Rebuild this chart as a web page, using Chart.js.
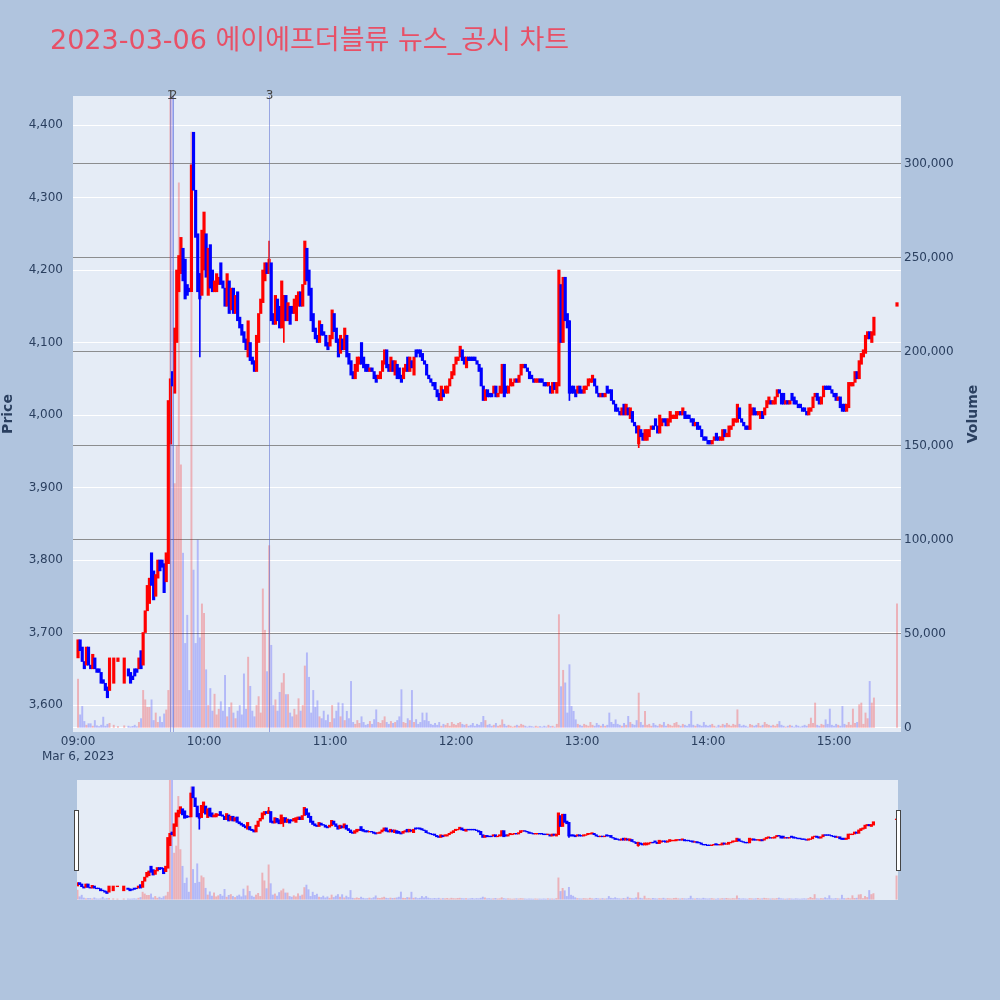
<!DOCTYPE html>
<html>
<head>
<meta charset="utf-8">
<script src="https://cdn.jsdelivr.net/npm/chart.js@4.4.1/dist/chart.umd.min.js"></script>
<style>
  html, body { margin: 0; padding: 0; background: #b0c4de; }
  #wrap { position: relative; width: 1000px; height: 1000px; overflow: hidden; }
  #title { position: absolute; left: 50px; top: 21px; line-height: 38px; white-space: nowrap;
           font-size: 27px; font-family: "DejaVu Sans", "Noto Sans CJK KR", sans-serif; color: rgb(232, 80, 102); }
  #main { position: absolute; left: 0; top: 0; }
  #slider { position: absolute; left: 0; top: 780px; }
</style>
</head>
<body>
<div id="wrap">
  <canvas id="main" width="1000" height="775"></canvas>
  <canvas id="slider" width="1000" height="120"></canvas>
  <div id="title">2023-03-06 에이에프더블류 뉴스_공시 차트</div>
</div>
<script>
// one entry per minute from 09:00 (index 0) to 15:30 (index 390); null = no trade
const opens = [
  3665,3690,3680,3660,3655,3680,3655,3650,3665,3650,
  3650,3645,3635,3630,3625,3620,null,3630,null,3660,
  null,null,3630,null,3650,3645,3640,3650,3650,3650,
  3675,3655,3700,3730,3740,3810,3785,3750,3775,3800,
  3800,3795,3770,3795,3960,4060,4030,4100,4170,4195,
  4230,4215,4180,4175,4170,4390,4310,4250,4195,4165,
  4200,4250,4165,4235,4200,4170,4170,4180,4210,4185,
  4175,4150,4185,4145,4175,4140,4170,4135,4125,4115,
  4105,4080,4100,4080,4075,4060,4100,4140,4155,4185,
  4210,4195,4210,4140,4125,4160,4150,4120,4130,4165,
  4130,4150,4150,4140,4130,4150,4170,4150,4180,4230,
  4200,4175,4140,4120,4110,4100,4125,4115,4110,4100,
  4095,4105,4140,4120,4105,4085,4105,4090,4110,4085,
  4075,4060,4050,4060,4070,4100,4080,4070,4070,4060,
  4065,4060,4055,4050,4050,4060,4070,4090,4070,4060,
  4075,4055,4070,4065,4055,4050,4060,4080,4060,4075,
  4055,4090,4090,4090,4085,4075,4070,4055,4050,4045,
  4045,4035,4030,4020,4035,4030,4030,4040,4050,4055,
  4070,4075,4080,4090,4080,4065,4080,4080,4080,4080,
  4075,4070,4065,4040,4020,4035,4030,4030,4030,4040,
  4025,4030,4030,4070,4040,4030,4040,4040,4045,4050,
  4045,4055,4065,4070,4065,4060,4055,4050,4045,4045,
  4050,4050,4045,4045,4040,4040,4030,4045,4030,4040,
  4180,4100,4190,4140,4130,4040,4040,4035,4030,4040,
  4035,4030,4035,4040,4045,4045,4050,4040,4030,4025,
  4030,4025,4040,4035,4035,4020,4015,4010,4005,4000,
  4015,4000,4010,3995,4005,3990,3985,3960,3980,3975,
  3965,3965,3970,3980,3985,3995,3985,3975,3985,3995,
  3995,3985,3990,3995,3995,3995,4000,4005,4000,4005,
  4000,4000,3995,3995,3985,3990,3985,3980,3970,3970,
  3965,3965,3960,3965,3975,3970,3965,3965,3980,3970,
  3970,3980,3985,3990,3990,4010,3995,3990,3985,3985,
  3980,4000,4010,4005,4000,3995,4005,4000,4010,4015,
  4020,4015,4015,4025,4035,4030,4030,4015,4020,4015,
  4030,4025,4020,4015,4015,4010,4010,4005,4000,4005,
  4010,4025,4030,4025,4015,4025,4040,4040,4040,4035,
  4030,4030,4020,4025,4015,4015,4005,4010,4040,4040,
  4045,4060,4050,4070,4080,4085,4105,4115,4100,4110,
  null,null,null,null,null,null,null,null,null,null,
  4150
];
const closes = [
  3690,3675,3660,3650,3680,3655,3650,3670,3650,3645,
  3645,3630,3630,3620,3610,3665,null,3665,null,3665,
  null,null,3665,null,3640,3630,3635,3640,3645,3665,
  3650,3700,3730,3765,3775,3765,3745,3780,3800,3785,
  3790,3755,3810,4020,4050,4040,4120,4200,4220,4245,
  4185,4160,4165,4170,4345,4310,4245,4170,4160,4255,
  4280,4190,4230,4175,4170,4185,4195,4190,4180,4175,
  4150,4195,4140,4175,4140,4165,4130,4120,4110,4100,
  4090,4130,4075,4070,4060,4110,4140,4160,4200,4210,
  4195,4215,4130,4125,4165,4130,4120,4185,4165,4130,
  4155,4125,4140,4160,4165,4170,4150,4180,4240,4185,
  4165,4130,4115,4105,4100,4130,4110,4110,4095,4090,
  4110,4145,4115,4100,4080,4110,4090,4120,4080,4070,
  4055,4050,4070,4080,4080,4070,4065,4060,4060,4065,
  4060,4050,4045,4055,4060,4075,4090,4065,4060,4080,
  4060,4075,4050,4050,4045,4065,4070,4060,4080,4065,
  4080,4080,4085,4080,4075,4070,4055,4050,4045,4040,
  4035,4025,4020,4040,4025,4040,4040,4050,4060,4070,
  4080,4080,4095,4075,4070,4080,4075,4075,4075,4075,
  4070,4060,4040,4020,4035,4025,4025,4025,4040,4025,
  4030,4040,4070,4025,4030,4040,4050,4045,4050,4045,
  4055,4070,4070,4065,4060,4050,4050,4045,4050,4050,
  4045,4045,4040,4040,4045,4030,4045,4035,4045,4200,
  4100,4190,4130,4120,4030,4030,4030,4025,4040,4030,
  4030,4040,4040,4050,4050,4055,4040,4030,4025,4030,
  4025,4030,4030,4030,4020,4015,4005,4005,4000,4010,
  4000,4015,4000,4010,3990,3985,3975,3985,3970,3965,
  3980,3980,3980,3985,3980,3985,3975,4000,3995,3990,
  3985,3995,4005,4000,4000,4005,4005,4000,4010,3995,
  3995,3995,3990,3985,3990,3980,3980,3970,3965,3965,
  3960,3960,3965,3970,3965,3965,3970,3980,3970,3975,
  3985,3985,3995,3995,4015,3995,3990,3985,3980,3980,
  4015,4010,4000,4000,4005,4005,3995,4010,4020,4025,
  4015,4020,4025,4035,4030,4015,4015,4020,4015,4020,
  4020,4015,4015,4010,4010,4005,4005,4000,4010,4010,
  4025,4030,4020,4015,4025,4040,4035,4035,4035,4030,
  4025,4020,4025,4010,4005,4005,4015,4045,4045,4045,
  4060,4050,4075,4085,4090,4110,4115,4105,4115,4135,
  null,null,null,null,null,null,null,null,null,null,
  4155
];
const volumes = [
  26000,7000,11500,3500,1500,2300,2300,1000,4000,1200,
  800,1500,5800,1000,2000,2500,null,1500,null,800,
  null,null,1200,null,1000,600,900,1500,700,3000,
  5000,20000,15000,11000,11000,15000,4000,8000,3000,6000,
  3000,7500,9600,20000,400000,400000,130000,150000,290000,140000,
  93000,45000,60000,20000,317000,84000,45000,100000,48000,66000,
  61000,31000,12000,21000,9000,18000,7000,10000,14000,9000,
  28000,6000,11000,13400,8000,5000,9000,12000,7000,28800,
  10000,37700,22200,9000,6000,12000,16700,8000,74000,52000,
  30000,97000,44000,12000,15000,9000,19000,24000,29000,17800,
  17800,8000,6000,10000,7000,15600,9000,12000,33000,40000,
  27000,8000,20000,11000,14500,6000,5000,9000,4000,7000,
  3000,12000,5000,9000,13400,6000,13000,4000,8900,5000,
  24800,3000,2000,4000,2500,6000,3000,1500,2000,3500,
  2000,4500,9700,3000,2500,4000,6000,3000,2000,3500,
  2500,3000,4000,6000,20400,3000,2500,5000,4000,20000,
  3000,4500,2000,3000,8000,4000,8000,3500,2000,1500,
  2500,1500,3000,1000,2000,1500,2500,1000,3000,2000,
  1500,2500,3000,2000,1500,2000,1000,1500,2500,1000,
  2000,1500,3000,6200,4000,1500,2000,1000,1500,2500,
  1000,1500,4400,2000,1000,1500,1000,500,1000,1500,
  1000,2000,1500,1000,500,1000,800,500,1000,600,
  800,500,1000,600,1500,800,1000,500,2000,60300,
  22000,30700,24000,8000,33700,11500,8900,4400,2000,1500,
  1000,2000,1500,1000,3000,1500,1000,2500,1500,1000,
  2000,1000,1500,8000,3000,2000,4400,2000,1500,1000,
  2500,1500,6200,3000,2000,1500,4000,18600,3000,1500,
  8900,1500,2000,1000,2500,1500,1000,2000,1500,3000,
  1000,2000,1500,1000,2500,3000,1500,1000,2000,1500,
  1000,2000,8900,1500,1000,2000,1500,1000,3000,1500,
  1000,1500,2000,1000,500,1500,1000,2000,1500,2500,
  1500,1000,2000,1500,9700,2000,1000,1500,1000,500,
  2000,1500,1000,1500,2500,1000,1500,3000,2000,1500,
  1000,1500,1000,2000,3500,1500,1000,500,1000,1500,
  1000,500,1500,1000,500,1000,1500,1000,2000,5300,
  2500,13300,1500,1000,2000,1500,4400,2000,10100,1500,
  1000,2000,1500,1000,11500,2000,1500,3000,1500,10100,
  2500,3000,12400,13300,2000,8000,5000,24800,13300,16000,
  null,null,null,null,null,null,null,null,null,null,
  66000
];
// [minute, low, high] for candles with a visible shadow
const wicks = [[58, 4080, 4195], [91, 4195, 4240], [98, 4100, 4165], [234, 4020, 4130], [267, 3955, 3985]];
// news / disclosure markers: [minute, label]
const news = [[44, '1'], [45, '2'], [91, '3']];
const timeTicks = [0, 60, 120, 180, 240, 300, 360];
const priceTicks = [3600, 3700, 3800, 3900, 4000, 4100, 4200, 4300, 4400];
const volumeTicks = [0, 50000, 100000, 150000, 200000, 250000, 300000];
const dateLabel = 'Mar 6, 2023';

const UP = '#ff0000', DOWN = '#0000ff';
const UP_VOL = 'rgba(255,0,0,0.25)', DOWN_VOL = 'rgba(0,0,255,0.22)';
const TXT = '#2a3f5f';
Chart.defaults.font.family = '"DejaVu Sans", sans-serif';
Chart.defaults.color = TXT;

function hhmm(m) {
    var h = 9 + Math.floor(m / 60), mm = m % 60;
    return String(h).padStart(2, '0') + ':' + String(mm).padStart(2, '0');
}

function fixedTicks(list) {
    return function (s) { s.ticks = list.map(function (v) { return {value: v}; }); };
}

function buildDatasets(candleWidth, volWidth) {
    var candles = [], candleColors = [], vols = [], volColors = [];
    for (var m = 0; m < opens.length; m++) {
        if (opens[m] == null) continue;
        var up = closes[m] >= opens[m];
        candles.push({x: m, y: [opens[m], closes[m]]});
        candleColors.push(up ? UP : DOWN);
        if (volumes[m] != null) {
            vols.push({x: m, y: volumes[m]});
            volColors.push(up ? UP_VOL : DOWN_VOL);
        }
    }
    return [
        {
            data: candles, backgroundColor: candleColors, barThickness: candleWidth,
            grouped: false, yAxisID: 'y', order: 0,
        },
        {
            data: wicks.map(function (w) { return {x: w[0], y: [w[1], w[2]]}; }),
            backgroundColor: wicks.map(function (w) { return closes[w[0]] >= opens[w[0]] ? UP : DOWN; }),
            barThickness: 1, grouped: false, yAxisID: 'y', order: 1,
        },
        {
            data: vols, backgroundColor: volColors, barThickness: volWidth,
            grouped: false, yAxisID: 'y2', order: 2,
        },
    ];
}

const plotBg = {
    id: 'plotBg',
    beforeDraw(chart) {
        const {ctx, chartArea: a} = chart;
        ctx.save();
        ctx.fillStyle = '#e5ecf6';
        ctx.fillRect(a.left, a.top, a.right - a.left, a.bottom - a.top);
        ctx.restore();
    }
};

const newsLines = {
    id: 'newsLines',
    afterDraw(chart) {
        const {ctx, chartArea: a} = chart;
        const x = chart.scales.x;
        ctx.save();
        news.forEach(function (n) {
            const px = Math.round(x.getPixelForValue(n[0])) + 0.5;
            ctx.strokeStyle = 'rgba(90,110,210,0.55)';
            ctx.lineWidth = 1;
            ctx.beginPath();
            ctx.moveTo(px, a.top);
            ctx.lineTo(px, a.bottom);
            ctx.stroke();
            ctx.fillStyle = '#444';
            ctx.font = '12px "DejaVu Sans"';
            ctx.textAlign = 'center';
            ctx.textBaseline = 'middle';
            ctx.fillText(n[1], px, a.top);
        });
        // right axis title, reading bottom-to-top
        ctx.translate(973, (a.top + a.bottom) / 2);
        ctx.rotate(-Math.PI / 2);
        ctx.fillStyle = TXT;
        ctx.font = 'bold 14px "DejaVu Sans"';
        ctx.fillText('Volume', 0, 0);
        ctx.restore();
    }
};

new Chart(document.getElementById('main'), {
    type: 'bar',
    data: {datasets: buildDatasets(2.5, 1.3)},
    options: {
        responsive: false,
        animation: false,
        layout: {padding: {top: 96, left: 0, right: 0, bottom: 0}},
        plugins: {legend: {display: false}, tooltip: {enabled: false}},
        scales: {
            x: {
                type: 'linear', min: -2.4, max: 391.9, offset: false,
                grid: {display: false, drawTicks: false, offset: false},
                border: {display: false},
                afterBuildTicks: fixedTicks(timeTicks),
                ticks: {
                    padding: 3, autoSkip: false, maxRotation: 0, minRotation: 0, font: {size: 12},
                    callback: function (v) { return v === 0 ? [hhmm(v), dateLabel] : hhmm(v); },
                },
                afterFit: function (s) { s.height = 43; },
            },
            y: {
                position: 'left', min: 3562.8, max: 4440,
                grid: {color: '#ffffff', lineWidth: 1, drawTicks: false},
                border: {display: false},
                afterBuildTicks: fixedTicks(priceTicks),
                ticks: {padding: 10, font: {size: 12}},
                title: {display: true, text: 'Price', font: {size: 14, weight: 'bold'}, padding: {top: 0, bottom: 0}},
                afterFit: function (s) { s.width = 73; },
            },
            y2: {
                position: 'right', min: -2128, max: 336170,
                grid: {
                    drawTicks: false, lineWidth: 1,
                    color: function (c) { return c.tick && c.tick.value === 0 ? '#ffffff' : 'rgba(125,125,125,0.85)'; },
                },
                border: {display: false},
                afterBuildTicks: fixedTicks(volumeTicks),
                ticks: {padding: 3, font: {size: 12}},
                afterFit: function (s) { s.width = 99; },
            },
        },
    },
    plugins: [plotBg, newsLines],
});

const handles = {
    id: 'handles',
    afterDraw(chart) {
        const ctx = chart.ctx;
        ctx.save();
        ctx.fillStyle = '#ffffff';
        ctx.strokeStyle = '#444444';
        ctx.lineWidth = 1;
        [74.5, 896.5].forEach(function (hx) {
            ctx.fillRect(hx, 30.5, 4, 60);
            ctx.strokeRect(hx, 30.5, 4, 60);
        });
        ctx.restore();
    }
};

new Chart(document.getElementById('slider'), {
    type: 'bar',
    data: {datasets: buildDatasets(2.5, 1.3)},
    options: {
        responsive: false,
        animation: false,
        layout: {padding: {top: 0, left: 77, right: 102, bottom: 0}},
        plugins: {legend: {display: false}, tooltip: {enabled: false}},
        scales: {
            x: {type: 'linear', min: -0.25, max: 390.7, offset: false, display: false},
            y: {min: 3562.8, max: 4440, display: false},
            y2: {min: -2128, max: 336170, display: false},
        },
    },
    plugins: [plotBg, handles],
});
</script>
</body>
</html>
